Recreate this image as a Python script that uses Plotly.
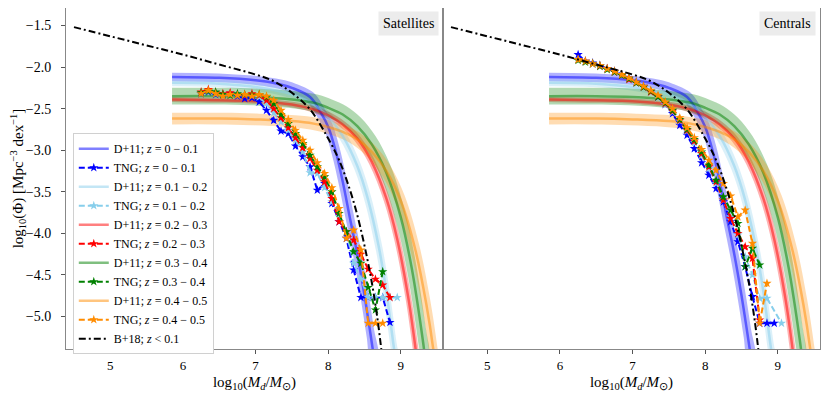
import plotly.graph_objects as go
from plotly.subplots import make_subplots

# D+11 fits, one pair of lists per redshift bin
d11_x_0 = [5.85, 6.5, 7.0, 7.3, 7.5, 7.75, 7.9, 8.0, 8.1, 8.2, 8.3, 8.4, 8.5, 8.58, 8.64]
d11_y_0 = [-2.12, -2.13, -2.16, -2.20, -2.25, -2.36, -2.55, -2.72, -3.0, -3.38, -3.82, -4.25, -4.75, -5.2, -5.55]
d11_x_1 = [5.85, 6.5, 7.0, 7.5, 7.8, 8.0, 8.2, 8.4, 8.55, 8.7, 8.8, 8.9, 8.94]
d11_y_1 = [-2.19, -2.20, -2.24, -2.33, -2.45, -2.60, -2.83, -3.19, -3.60, -4.18, -4.70, -5.35, -5.60]
d11_x_2 = [5.85, 6.5, 7.0, 7.5, 7.8, 8.0, 8.2, 8.4, 8.6, 8.8, 8.95, 9.1, 9.2, 9.25]
d11_y_2 = [-2.39, -2.40, -2.41, -2.45, -2.51, -2.58, -2.69, -2.86, -3.14, -3.58, -4.07, -4.76, -5.37, -5.73]
d11_x_3 = [5.85, 6.5, 7.0, 7.5, 7.8, 8.0, 8.2, 8.4, 8.6, 8.8, 9.0, 9.15, 9.3, 9.34]
d11_y_3 = [-2.35, -2.35, -2.36, -2.39, -2.43, -2.49, -2.57, -2.71, -2.93, -3.27, -3.81, -4.42, -5.27, -5.55]
d11_x_4 = [5.85, 6.5, 7.0, 7.5, 7.8, 8.0, 8.2, 8.4, 8.6, 8.8, 9.0, 9.2, 9.35, 9.45, 9.48]
d11_y_4 = [-2.62, -2.62, -2.63, -2.65, -2.68, -2.72, -2.78, -2.87, -3.02, -3.25, -3.61, -4.2, -4.85, -5.42, -5.67]
# uncertainty half widths of the shaded bands (dex in Phi, dex in mass)
d11_err_phi = [0.05, 0.04, 0.03, 0.10, 0.07]
d11_err_m = [0.05, 0.04, 0.035, 0.05, 0.05]

# B+18
b18_x = [4.5, 5.0, 5.5, 6.0, 6.5, 7.0, 7.25, 7.5, 7.75, 8.0, 8.15, 8.3, 8.4, 8.5, 8.6, 8.68, 8.73]
b18_y = [-1.52, -1.63, -1.74, -1.85, -1.97, -2.09, -2.17, -2.31, -2.51, -2.86, -3.12, -3.48, -3.78, -4.15, -4.59, -5.04, -5.39]

# TNG mass bins
tng_x = [6.25, 6.35, 6.45, 6.55, 6.65, 6.75, 6.85, 6.95, 7.05, 7.15, 7.25, 7.35, 7.45, 7.55, 7.65,
         7.75, 7.85, 7.95, 8.05, 8.15, 8.25, 8.35, 8.45, 8.55, 8.65, 8.75, 8.85, 8.95, 9.05]

# TNG satellites
sat_0 = [-2.32, -2.30, -2.33, -2.34, -2.32, -2.35, -2.38, -2.37, -2.42, -2.52, -2.64, -2.77, -2.80, -2.95,
         -3.08, -3.20, -3.48, -3.40, -3.64, -3.86, -4.06, -4.44, -4.77, -4.77, -4.77, -4.77, -5.07]
sat_1 = [-2.31, -2.29, -2.32, -2.33, -2.31, -2.33, -2.34, -2.33, -2.36, -2.44, -2.55, -2.66, -2.76, -2.88,
         -3.02, -3.27, -3.28, -3.45, -3.62, -3.80, -3.98, -4.36, -4.55, -4.77, -4.77, -4.77, -4.77, -4.77]
sat_2 = [-2.30, -2.27, -2.31, -2.32, -2.31, -2.33, -2.34, -2.32, -2.34, -2.40, -2.50, -2.61, -2.73, -2.85,
         -2.97, -3.10, -3.24, -3.38, -3.58, -3.86, -3.98, -4.08, -4.25, -4.43, -4.55, -4.62, -4.77]
sat_3 = [-2.31, -2.29, -2.30, -2.33, -2.34, -2.32, -2.33, -2.34, -2.33, -2.36, -2.44, -2.57, -2.68, -2.80,
         -2.92, -3.06, -3.20, -3.32, -3.50, -3.76, -3.98, -4.22, -4.36, -4.65, -4.92, -4.46]
sat_4 = [-2.32, -2.28, -2.32, -2.35, -2.33, -2.34, -2.33, -2.35, -2.33, -2.35, -2.40, -2.52, -2.63, -2.76,
         -2.88, -3.00, -3.15, -3.28, -3.45, -3.70, -4.06, -3.96, -4.20, -5.08, -5.08, -5.08]

# TNG centrals
cen_0 = [-1.85, -1.93, -1.95, -1.98, -2.02, -2.05, -2.09, -2.13, -2.18, -2.23, -2.29, -2.36, -2.45, -2.56,
         -2.70, -2.82, -2.98, -3.15, -3.30, -3.46, -3.62, -3.86, -4.10, -4.40, -4.76, -5.08, -5.08, -5.08]
cen_1 = [-1.91, -1.93, -1.96, -1.99, -2.02, -2.06, -2.10, -2.14, -2.19, -2.24, -2.30, -2.37, -2.45, -2.54,
         -2.65, -2.77, -2.91, -3.06, -3.22, -3.40, -3.60, -3.80, -4.02, -4.28, -4.50, -4.78, -4.78, None, -5.08]
cen_2 = [-1.91, -1.93, -1.96, -1.99, -2.02, -2.06, -2.10, -2.15, -2.19, -2.24, -2.30, -2.36, -2.44, -2.53,
         -2.64, -2.76, -2.89, -3.04, -3.20, -3.38, -3.60, -3.82, -4.00, -4.16, -4.30, -5.04]
cen_3 = [-1.92, -1.94, -1.96, -1.99, -2.03, -2.06, -2.10, -2.14, -2.19, -2.24, -2.29, -2.36, -2.43, -2.52,
         -2.63, -2.75, -2.87, -3.02, -3.18, -3.36, -3.56, -3.72, -3.88, -4.40, -4.18, -4.38]
cen_4 = [-1.91, -1.93, -1.96, -1.98, -2.02, -2.05, -2.09, -2.13, -2.18, -2.23, -2.28, -2.34, -2.42, -2.50,
         -2.61, -2.73, -2.85, -2.99, -3.12, -3.24, -3.40, -3.55, -3.80, -3.72, -4.12, -5.08, -4.60]

z_bins = ["0 − 0.1", "0.1 − 0.2", "0.2 − 0.3", "0.3 − 0.4", "0.4 − 0.5"]
colors = ["#0000ff", "#87ceeb", "#ff0000", "#008000", "#ff8c00"]
rgb = ["0,0,255", "135,206,235", "255,0,0", "0,128,0", "255,140,0"]

d11_x = [d11_x_0, d11_x_1, d11_x_2, d11_x_3, d11_x_4]
d11_y = [d11_y_0, d11_y_1, d11_y_2, d11_y_3, d11_y_4]
sat = [sat_0, sat_1, sat_2, sat_3, sat_4]
cen = [cen_0, cen_1, cen_2, cen_3, cen_4]

FONT = "Liberation Serif"

fig = make_subplots(rows=1, cols=2, shared_yaxes=True, horizontal_spacing=0)

for col in (1, 2):
    first = col == 1
    # bands + fit lines
    for i in range(5):
        xs, ys = d11_x[i], d11_y[i]
        dx, dy = d11_err_m[i], d11_err_phi[i]
        xu = [xs[0]] + [v + dx for v in xs[1:]]
        xl = [xs[0]] + [v - dx for v in xs[1:]]
        yu = [v + dy for v in ys]
        yl = [v - dy for v in ys]
        fig.add_trace(go.Scatter(
            x=xu + xl[::-1], y=yu + yl[::-1], fill="toself", mode="lines",
            line=dict(width=0, shape="spline"), fillcolor=f"rgba({rgb[i]},0.3)",
            hoverinfo="skip", showlegend=False), row=1, col=col)
    for i in range(5):
        fig.add_trace(go.Scatter(
            x=d11_x[i], y=d11_y[i], mode="lines",
            line=dict(color=f"rgba({rgb[i]},0.5)", width=2.5, shape="spline"),
            name=f"D+11; <i>z</i> = {z_bins[i]}", legendrank=10 + 2 * i,
            showlegend=first), row=1, col=col)
    data = sat if first else cen
    for i in range(5):
        ys = data[i]
        fig.add_trace(go.Scatter(
            x=tng_x[:len(ys)], y=ys, mode="lines+markers", connectgaps=True,
            line=dict(color=colors[i], width=2, dash="6px,3px"),
            marker=dict(symbol="star", size=7, color=colors[i]),
            name=f"TNG; <i>z</i> = {z_bins[i]}", legendrank=11 + 2 * i,
            showlegend=first), row=1, col=col)
    fig.add_trace(go.Scatter(
        x=b18_x, y=b18_y, mode="lines",
        line=dict(color="black", width=2, dash="7px,3px,2px,3px", shape="spline"),
        name="B+18; <i>z</i> &lt; 0.1", legendrank=30, showlegend=first), row=1, col=col)

axis_common = dict(range=[4.39, 9.58], tickvals=[5, 6, 7, 8, 9], showgrid=False, zeroline=False,
                   showline=True, linecolor="#888888", linewidth=1, mirror=True,
                   ticks="outside", ticklen=4, tickcolor="#555555", automargin=False,
                   tickfont=dict(family=FONT, size=13, color="black"),
                   title=dict(text="log<sub>10</sub>(<i>M<sub>d</sub></i>/<i>M</i><sub>⊙</sub>)",
                              font=dict(family=FONT, size=15, color="black"), standoff=4))
fig.update_xaxes(**axis_common, row=1, col=1)
fig.update_xaxes(**axis_common, row=1, col=2)
fig.update_yaxes(range=[-5.39, -1.29], tickvals=[-1.5, -2.0, -2.5, -3.0, -3.5, -4.0, -4.5, -5.0],
                 ticktext=["−1.5", "−2.0", "−2.5", "−3.0", "−3.5", "−4.0", "−4.5", "−5.0"],
                 showgrid=False, zeroline=False, showline=True, linecolor="#888888", linewidth=1,
                 mirror=True, ticks="outside", ticklen=4, tickcolor="#555555", automargin=False,
                 tickfont=dict(family=FONT, size=14, color="black"), ticklabelstandoff=7,
                 title=dict(text="log<sub>10</sub>(Φ) [Mpc<sup>−3</sup> dex<sup>−1</sup>]",
                            font=dict(family=FONT, size=15, color="black"), standoff=3),
                 row=1, col=1)
fig.update_yaxes(showline=True, linecolor="#888888", mirror=True, ticks="", showticklabels=False,
                 showgrid=False, zeroline=False, automargin=False, row=1, col=2)

for xref, label in (("x domain", "Satellites"), ("x2 domain", "Centrals")):
    fig.add_annotation(x=0.99, y=0.99, xref=xref, yref="y domain", xanchor="right", yanchor="top",
                       text=label, showarrow=False, bgcolor="#ececec", borderpad=4,
                       font=dict(family=FONT, size=14, color="black"))

# the page adds an 8px body margin, so the figure is drawn 8px smaller
fig.update_layout(
    width=822, height=385, margin=dict(l=58, r=10, t=0, b=44, autoexpand=False),
    plot_bgcolor="white", paper_bgcolor="white",
    legend=dict(x=0.009, y=0.633, xanchor="left", yanchor="top", bgcolor="white",
                bordercolor="#d0d0d0", borderwidth=1, itemwidth=30, tracegroupgap=0,
                font=dict(family=FONT, size=12, color="black")),
)

fig.write_html("out.html")
